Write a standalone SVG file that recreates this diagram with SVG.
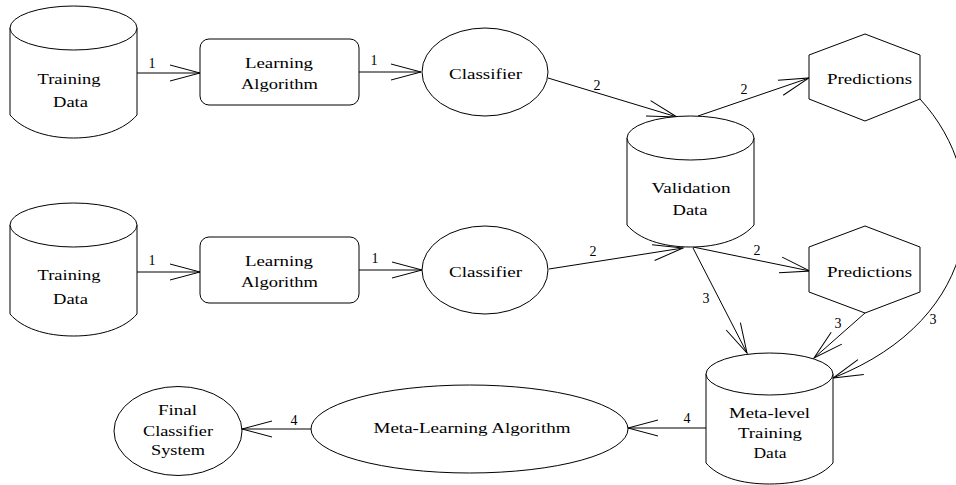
<svg xmlns="http://www.w3.org/2000/svg" width="956" height="485" viewBox="0 0 956 485">
<style>
.shape{fill:#fff;stroke:#000;stroke-width:1}
.line{fill:none;stroke:#000;stroke-width:1}
text{font-family:"Liberation Serif","Times New Roman",serif;font-size:14px;fill:#000;text-anchor:middle}
</style>
<defs>
<marker id="arr" markerUnits="userSpaceOnUse" viewBox="-32 -10 34 20" markerWidth="34" markerHeight="20" refX="0" refY="0" orient="auto" overflow="visible">
<path d="M-30,-8 L0,0 L-30,8" fill="none" stroke="#000" stroke-width="1"/>
</marker>
</defs>
<rect width="956" height="485" fill="#fff"/>

<g id="connectors">
<path class="line" d="M137,73 L200,73" marker-end="url(#arr)"/>
<path class="line" d="M359,72 L421,72" marker-end="url(#arr)"/>
<path class="line" d="M548,78 L677,117" marker-end="url(#arr)"/>
<path class="line" d="M698,116 L809,78" marker-end="url(#arr)"/>
<path class="line" d="M137,272 L200,272" marker-end="url(#arr)"/>
<path class="line" d="M359,270 L422,270" marker-end="url(#arr)"/>
<path class="line" d="M549,269 L683,248" marker-end="url(#arr)"/>
<path class="line" d="M693,247 L810,271" marker-end="url(#arr)"/>
<path class="line" d="M693,248 L747,353" marker-end="url(#arr)"/>
<path class="line" d="M865,313 L814,358" marker-end="url(#arr)"/>
<path class="line" d="M920,99 C995,180 985,318 833,378" marker-end="url(#arr)"/>
<path class="line" d="M706,428 L628,428" marker-end="url(#arr)"/>
<path class="line" d="M311,429 L242,429" marker-end="url(#arr)"/>
<text x="152" y="68">1</text>
<text x="374" y="65">1</text>
<text x="597" y="90">2</text>
<text x="744" y="94">2</text>
<text x="152" y="265">1</text>
<text x="375" y="263">1</text>
<text x="593" y="256">2</text>
<text x="757" y="255">2</text>
<text x="706" y="303">3</text>
<text x="838" y="328">3</text>
<text x="933" y="324">3</text>
<text x="687" y="423">4</text>
<text x="294" y="425">4</text>
</g>

<g id="training-data-1">
<path class="shape" d="M10,28 L10,115 C22,129 45,138 73.5,138 C102,138 125,129 137,115 L137,28 Z"/>
<ellipse class="shape" cx="73.5" cy="28" rx="63.5" ry="22"/>
<text x="69" y="84" textLength="63" lengthAdjust="spacingAndGlyphs">Training</text>
<text x="70.5" y="107" textLength="35" lengthAdjust="spacingAndGlyphs">Data</text>
</g>

<g id="learning-algorithm-1">
<rect class="shape" x="200" y="39" width="159" height="66" rx="9" ry="9"/>
<text x="279" y="68" textLength="68" lengthAdjust="spacingAndGlyphs">Learning</text>
<text x="279.5" y="89" textLength="77" lengthAdjust="spacingAndGlyphs">Algorithm</text>
</g>

<g id="classifier-1">
<ellipse class="shape" cx="485" cy="72" rx="63" ry="44"/>
<text x="485.5" y="79" textLength="73" lengthAdjust="spacingAndGlyphs">Classifier</text>
</g>

<g id="training-data-2">
<path class="shape" d="M10,225 L10,314 C22,328 45,336 73.5,336 C102,336 125,328 137,314 L137,225 Z"/>
<ellipse class="shape" cx="73.5" cy="225" rx="63.5" ry="22"/>
<text x="69" y="280" textLength="63" lengthAdjust="spacingAndGlyphs">Training</text>
<text x="70.5" y="304" textLength="35" lengthAdjust="spacingAndGlyphs">Data</text>
</g>

<g id="learning-algorithm-2">
<rect class="shape" x="200" y="237" width="159" height="66" rx="9" ry="9"/>
<text x="279" y="266" textLength="68" lengthAdjust="spacingAndGlyphs">Learning</text>
<text x="279.5" y="287" textLength="77" lengthAdjust="spacingAndGlyphs">Algorithm</text>
</g>

<g id="classifier-2">
<ellipse class="shape" cx="485" cy="270" rx="63" ry="44"/>
<text x="485.5" y="277" textLength="73" lengthAdjust="spacingAndGlyphs">Classifier</text>
</g>

<g id="validation-data">
<path class="shape" d="M627,138 L627,225 C639,239 662,247 690.5,247 C719,247 742,239 754,225 L754,138 Z"/>
<ellipse class="shape" cx="690.5" cy="138" rx="63.5" ry="22"/>
<text x="691" y="193" textLength="79" lengthAdjust="spacingAndGlyphs">Validation</text>
<text x="690" y="215" textLength="35" lengthAdjust="spacingAndGlyphs">Data</text>
</g>

<g id="predictions-1">
<polygon class="shape" points="865,34 920,55 920,99 865,121 809,99 809,55"/>
<text x="869.5" y="84" textLength="85" lengthAdjust="spacingAndGlyphs">Predictions</text>
</g>

<g id="predictions-2">
<polygon class="shape" points="865,226 920,247 920,292 865,313 809,292 809,247"/>
<text x="869.5" y="277" textLength="85" lengthAdjust="spacingAndGlyphs">Predictions</text>
</g>

<g id="meta-level-training-data">
<path class="shape" d="M706,374 L706,463 C718,477 741,484 769.5,484 C798,484 821,477 833,463 L833,374 Z"/>
<ellipse class="shape" cx="769.5" cy="374" rx="63.5" ry="21"/>
<text x="769.5" y="418" textLength="81" lengthAdjust="spacingAndGlyphs">Meta-level</text>
<text x="770" y="438" textLength="64" lengthAdjust="spacingAndGlyphs">Training</text>
<text x="770" y="458" textLength="33" lengthAdjust="spacingAndGlyphs">Data</text>
</g>

<g id="meta-learning-algorithm">
<ellipse class="shape" cx="469.5" cy="429" rx="158.5" ry="44"/>
<text x="472" y="433" textLength="197" lengthAdjust="spacingAndGlyphs">Meta-Learning Algorithm</text>
</g>

<g id="final-classifier-system">
<ellipse class="shape" cx="178" cy="431" rx="64" ry="44.5"/>
<text x="177.5" y="415" textLength="39" lengthAdjust="spacingAndGlyphs">Final</text>
<text x="178" y="436" textLength="70" lengthAdjust="spacingAndGlyphs">Classifier</text>
<text x="178" y="455" textLength="54" lengthAdjust="spacingAndGlyphs">System</text>
</g>
</svg>
